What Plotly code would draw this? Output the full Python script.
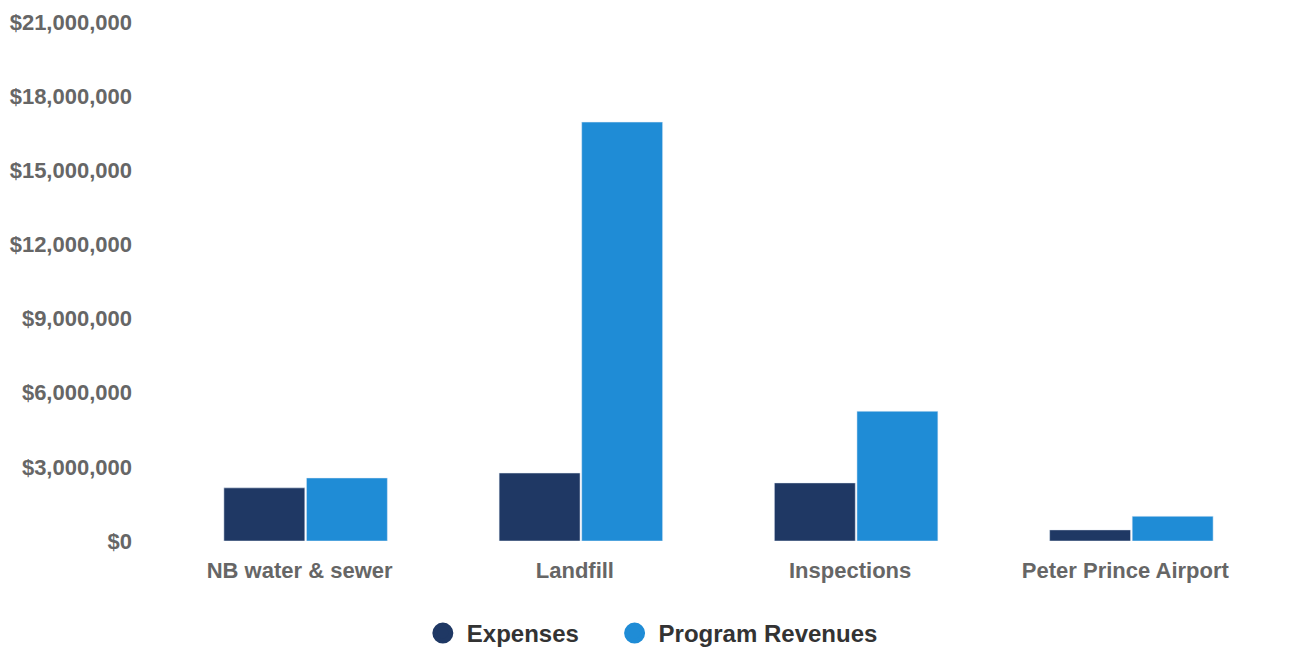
import plotly.graph_objects as go

categories = ["NB water & sewer", "Landfill", "Inspections", "Peter Prince Airport"]
expenses = [2150000, 2750000, 2350000, 450000]
program_revenues = [2550000, 16950000, 5250000, 1000000]
tick_values = [0, 3000000, 6000000, 9000000, 12000000, 15000000, 18000000, 21000000]
tick_labels = ["$0", "$3,000,000", "$6,000,000", "$9,000,000", "$12,000,000",
               "$15,000,000", "$18,000,000", "$21,000,000"]

c_exp = "#1f3864"
c_rev = "#1f8cd6"

fig = go.Figure()
fig.add_trace(go.Bar(x=categories, y=expenses, name="Expenses", marker_color=c_exp,
                     showlegend=False))
fig.add_trace(go.Bar(x=categories, y=program_revenues, name="Program Revenues",
                     marker_color=c_rev, showlegend=False))
# legend entries with circle markers
fig.add_trace(go.Scatter(x=[None], y=[None], mode="markers", name="Expenses" + "\u00a0" * 4,
                         marker=dict(color=c_exp, size=24, symbol="circle",
                                     line=dict(color=c_exp, width=8))))
fig.add_trace(go.Scatter(x=[None], y=[None], mode="markers", name="Program Revenues",
                         marker=dict(color=c_rev, size=24, symbol="circle",
                                     line=dict(color=c_rev, width=8))))

fig.update_layout(
    width=1300, height=648,
    paper_bgcolor="white", plot_bgcolor="white",
    margin=dict(l=160, r=39, t=14, b=115, autoexpand=False),
    barmode="group", bargap=0.4, bargroupgap=0.02,
    font=dict(family="Liberation Sans, Arial, sans-serif"),
    legend=dict(orientation="h", x=0.4945, xanchor="center", xref="container",
                y=-0.003, yanchor="bottom", yref="container", itemsizing="trace",
                font=dict(size=24, color="#333333", family="Liberation Sans, Arial, sans-serif", weight="bold"),
                traceorder="normal", itemwidth=38),
    showlegend=True,
)
fig.update_xaxes(showgrid=False, showline=False, zeroline=False, automargin=False,
                 tickfont=dict(size=22, color="#666666", weight="bold"),
                 ticks="", ticklabelstandoff=14, ticklabelshift=-6)
fig.update_yaxes(range=[0, 21000000], tickvals=tick_values, ticktext=tick_labels,
                 showgrid=False, zeroline=False, showline=False, automargin=False,
                 tickfont=dict(size=22, color="#666666", weight="bold"),
                 ticks="", ticklabelstandoff=35)

fig.write_html("out.html")
